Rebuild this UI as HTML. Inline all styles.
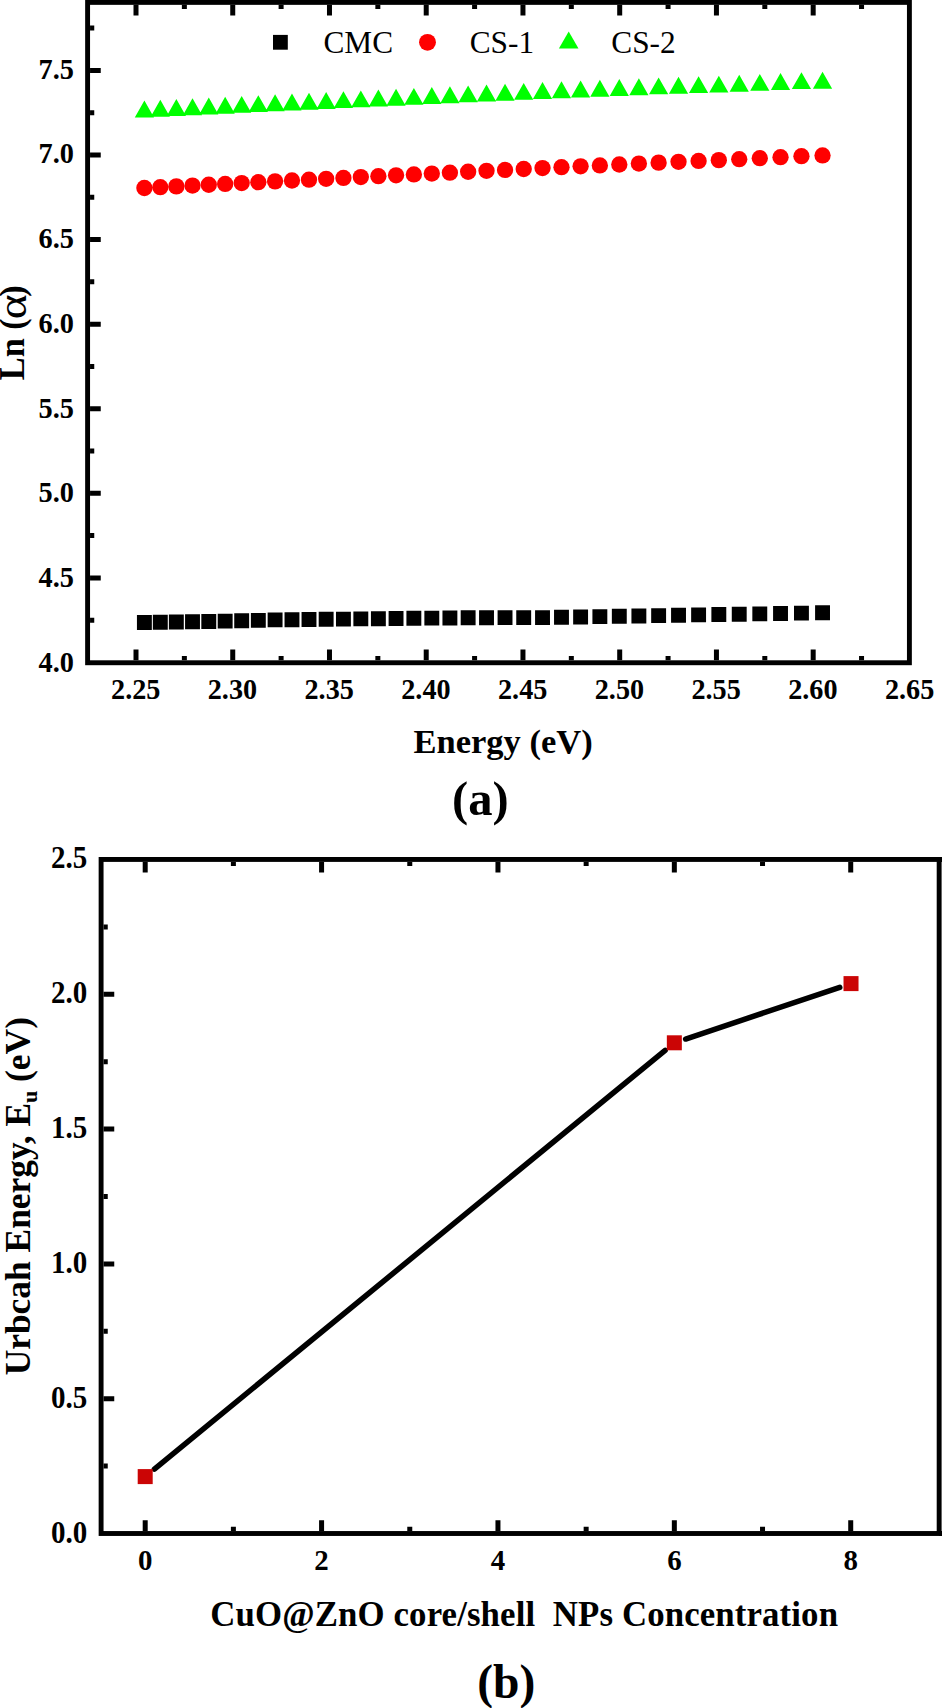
<!DOCTYPE html>
<html><head><meta charset="utf-8"><title>Figure</title>
<style>
html,body{margin:0;padding:0;background:#fff}
body{width:942px;height:1708px;overflow:hidden}
svg{display:block;font-family:"Liberation Serif","DejaVu Serif",serif;fill:#000}
</style></head><body>
<svg width="942" height="1708" viewBox="0 0 942 1708">
<rect width="942" height="1708" fill="#fff"/>
<rect x="87.6" y="2.4" width="821.80" height="660.35" fill="none" stroke="#000" stroke-width="4.9"/>
<path d="M136.00 660.30v-10.7M136.00 4.85v10.7M184.37 660.30v-4.2M184.37 4.85v4.2M232.74 660.30v-10.7M232.74 4.85v10.7M281.11 660.30v-4.2M281.11 4.85v4.2M329.48 660.30v-10.7M329.48 4.85v10.7M377.85 660.30v-4.2M377.85 4.85v4.2M426.22 660.30v-10.7M426.22 4.85v10.7M474.59 660.30v-4.2M474.59 4.85v4.2M522.96 660.30v-10.7M522.96 4.85v10.7M571.33 660.30v-4.2M571.33 4.85v4.2M619.70 660.30v-10.7M619.70 4.85v10.7M668.07 660.30v-4.2M668.07 4.85v4.2M716.44 660.30v-10.7M716.44 4.85v10.7M764.81 660.30v-4.2M764.81 4.85v4.2M813.18 660.30v-10.7M813.18 4.85v10.7M861.55 660.30v-4.2M861.55 4.85v4.2M90.05 577.91h10.7M90.05 493.33h10.7M90.05 408.75h10.7M90.05 324.16h10.7M90.05 239.58h10.7M90.05 154.99h10.7M90.05 70.41h10.7M90.05 620.21h4.2M90.05 535.62h4.2M90.05 451.04h4.2M90.05 366.45h4.2M90.05 281.87h4.2M90.05 197.28h4.2M90.05 112.70h4.2M90.05 28.11h4.2" stroke="#000" stroke-width="5" fill="none"/>
<g font-weight="bold" font-size="28.2" text-anchor="middle">
<text transform="translate(135.70 698.5) scale(1 1.065)">2.25</text>
<text transform="translate(232.44 698.5) scale(1 1.065)">2.30</text>
<text transform="translate(329.18 698.5) scale(1 1.065)">2.35</text>
<text transform="translate(425.92 698.5) scale(1 1.065)">2.40</text>
<text transform="translate(522.66 698.5) scale(1 1.065)">2.45</text>
<text transform="translate(619.40 698.5) scale(1 1.065)">2.50</text>
<text transform="translate(716.14 698.5) scale(1 1.065)">2.55</text>
<text transform="translate(812.88 698.5) scale(1 1.065)">2.60</text>
<text transform="translate(909.62 698.5) scale(1 1.065)">2.65</text>
</g>
<g font-weight="bold" font-size="28.3" text-anchor="end">
<text transform="translate(73.9 671.80) scale(1 1.07)">4.0</text>
<text transform="translate(73.9 587.07) scale(1 1.07)">4.5</text>
<text transform="translate(73.9 502.34) scale(1 1.07)">5.0</text>
<text transform="translate(73.9 417.62) scale(1 1.07)">5.5</text>
<text transform="translate(73.9 332.89) scale(1 1.07)">6.0</text>
<text transform="translate(73.9 248.16) scale(1 1.07)">6.5</text>
<text transform="translate(73.9 163.43) scale(1 1.07)">7.0</text>
<text transform="translate(73.9 78.70) scale(1 1.07)">7.5</text>
</g>
<path d="M136.94 615.05h14.9v14.9h-14.9zM152.86 614.81h14.9v14.9h-14.9zM168.90 614.56h14.9v14.9h-14.9zM185.06 614.32h14.9v14.9h-14.9zM201.33 614.07h14.9v14.9h-14.9zM217.72 613.68h14.9v14.9h-14.9zM234.24 613.28h14.9v14.9h-14.9zM250.88 612.88h14.9v14.9h-14.9zM267.64 612.47h14.9v14.9h-14.9zM284.53 612.27h14.9v14.9h-14.9zM301.55 612.07h14.9v14.9h-14.9zM318.70 611.87h14.9v14.9h-14.9zM335.98 611.67h14.9v14.9h-14.9zM353.38 611.47h14.9v14.9h-14.9zM370.93 611.27h14.9v14.9h-14.9zM388.60 611.07h14.9v14.9h-14.9zM406.42 610.86h14.9v14.9h-14.9zM424.37 610.69h14.9v14.9h-14.9zM442.46 610.53h14.9v14.9h-14.9zM460.69 610.36h14.9v14.9h-14.9zM479.07 610.24h14.9v14.9h-14.9zM497.59 610.21h14.9v14.9h-14.9zM516.26 610.18h14.9v14.9h-14.9zM535.07 610.15h14.9v14.9h-14.9zM554.04 609.86h14.9v14.9h-14.9zM573.15 609.52h14.9v14.9h-14.9zM592.42 609.18h14.9v14.9h-14.9zM611.85 608.83h14.9v14.9h-14.9zM631.43 608.48h14.9v14.9h-14.9zM651.18 608.13h14.9v14.9h-14.9zM671.08 607.78h14.9v14.9h-14.9zM691.15 607.42h14.9v14.9h-14.9zM711.38 607.09h14.9v14.9h-14.9zM731.78 606.74h14.9v14.9h-14.9zM752.34 606.40h14.9v14.9h-14.9zM773.08 606.05h14.9v14.9h-14.9zM794.00 605.71h14.9v14.9h-14.9zM815.09 605.35h14.9v14.9h-14.9z" fill="#000"/>
<g fill="#f00"><circle cx="144.39" cy="188.00" r="8.15"/><circle cx="160.31" cy="187.19" r="8.15"/><circle cx="176.35" cy="186.38" r="8.15"/><circle cx="192.51" cy="185.56" r="8.15"/><circle cx="208.78" cy="184.73" r="8.15"/><circle cx="225.17" cy="183.90" r="8.15"/><circle cx="241.69" cy="183.06" r="8.15"/><circle cx="258.33" cy="182.22" r="8.15"/><circle cx="275.09" cy="181.37" r="8.15"/><circle cx="291.98" cy="180.52" r="8.15"/><circle cx="309.00" cy="179.68" r="8.15"/><circle cx="326.15" cy="178.82" r="8.15"/><circle cx="343.43" cy="177.96" r="8.15"/><circle cx="360.83" cy="177.09" r="8.15"/><circle cx="378.38" cy="176.22" r="8.15"/><circle cx="396.05" cy="175.33" r="8.15"/><circle cx="413.87" cy="174.45" r="8.15"/><circle cx="431.82" cy="173.56" r="8.15"/><circle cx="449.91" cy="172.66" r="8.15"/><circle cx="468.14" cy="171.75" r="8.15"/><circle cx="486.52" cy="170.84" r="8.15"/><circle cx="505.04" cy="169.92" r="8.15"/><circle cx="523.71" cy="169.00" r="8.15"/><circle cx="542.52" cy="168.06" r="8.15"/><circle cx="561.49" cy="167.18" r="8.15"/><circle cx="580.60" cy="166.30" r="8.15"/><circle cx="599.87" cy="165.40" r="8.15"/><circle cx="619.30" cy="164.49" r="8.15"/><circle cx="638.88" cy="163.56" r="8.15"/><circle cx="658.63" cy="162.63" r="8.15"/><circle cx="678.53" cy="161.78" r="8.15"/><circle cx="698.60" cy="160.93" r="8.15"/><circle cx="718.83" cy="160.13" r="8.15"/><circle cx="739.23" cy="159.16" r="8.15"/><circle cx="759.79" cy="158.18" r="8.15"/><circle cx="780.53" cy="157.19" r="8.15"/><circle cx="801.45" cy="156.19" r="8.15"/><circle cx="822.54" cy="155.40" r="8.15"/></g>
<path d="M144.39 100.60l9.6 16.9h-19.2zM160.31 99.84l9.6 16.9h-19.2zM176.35 99.07l9.6 16.9h-19.2zM192.51 98.30l9.6 16.9h-19.2zM208.78 97.52l9.6 16.9h-19.2zM225.17 96.73l9.6 16.9h-19.2zM241.69 95.94l9.6 16.9h-19.2zM258.33 95.14l9.6 16.9h-19.2zM275.09 94.34l9.6 16.9h-19.2zM291.98 93.56l9.6 16.9h-19.2zM309.00 92.77l9.6 16.9h-19.2zM326.15 91.98l9.6 16.9h-19.2zM343.43 91.19l9.6 16.9h-19.2zM360.83 90.38l9.6 16.9h-19.2zM378.38 89.57l9.6 16.9h-19.2zM396.05 88.76l9.6 16.9h-19.2zM413.87 87.94l9.6 16.9h-19.2zM431.82 87.12l9.6 16.9h-19.2zM449.91 86.29l9.6 16.9h-19.2zM468.14 85.46l9.6 16.9h-19.2zM486.52 84.62l9.6 16.9h-19.2zM505.04 83.77l9.6 16.9h-19.2zM523.71 82.92l9.6 16.9h-19.2zM542.52 82.06l9.6 16.9h-19.2zM561.49 81.32l9.6 16.9h-19.2zM580.60 80.57l9.6 16.9h-19.2zM599.87 79.82l9.6 16.9h-19.2zM619.30 79.03l9.6 16.9h-19.2zM638.88 78.23l9.6 16.9h-19.2zM658.63 77.42l9.6 16.9h-19.2zM678.53 76.79l9.6 16.9h-19.2zM698.60 76.17l9.6 16.9h-19.2zM718.83 75.66l9.6 16.9h-19.2zM739.23 74.81l9.6 16.9h-19.2zM759.79 73.94l9.6 16.9h-19.2zM780.53 73.07l9.6 16.9h-19.2zM801.45 72.20l9.6 16.9h-19.2zM822.54 71.75l9.6 16.9h-19.2z" fill="#0f0"/>
<rect x="273" y="34.9" width="14.8" height="14.8" fill="#000"/>
<circle cx="427.5" cy="42.35" r="8.45" fill="#f00"/>
<path d="M568.7 31.5l9.8 16.9h-19.6z" fill="#0f0"/>
<g font-size="31.3"><text x="323.5" y="53.1">CMC</text><text x="469.7" y="53.1">CS-1</text><text x="611.3" y="53.1">CS-2</text></g>
<text x="503.1" y="752.9" font-weight="bold" font-size="34.5" text-anchor="middle">Energy (eV)</text>
<text x="480.3" y="815.3" font-weight="bold" font-size="48.6" text-anchor="middle">(a)</text>
<g transform="translate(24 380.2) rotate(-90) scale(1 1.035)" font-weight="bold" font-size="34.3"><text x="0" y="0">Ln (</text><text transform="translate(60.9 1.45) scale(1.234 1)" font-weight="normal" font-size="38.5">α</text><text x="83.5" y="0">)</text></g>
<rect x="101.1" y="859.45" width="838.05" height="674.05" fill="none" stroke="#000" stroke-width="4.9"/>
<path d="M939.15 859.45h6M939.15 1533.5h6" stroke="#000" stroke-width="4.9"/>
<path d="M145.20 1531.05v-10.7M145.20 861.90v10.7M321.58 1531.05v-10.7M321.58 861.90v10.7M497.96 1531.05v-10.7M497.96 861.90v10.7M674.34 1531.05v-10.7M674.34 861.90v10.7M850.72 1531.05v-10.7M850.72 861.90v10.7M233.39 1531.05v-4.2M233.39 861.90v4.2M409.77 1531.05v-4.2M409.77 861.90v4.2M586.15 1531.05v-4.2M586.15 861.90v4.2M762.53 1531.05v-4.2M762.53 861.90v4.2M103.55 1398.70h10.7M103.55 1263.90h10.7M103.55 1129.10h10.7M103.55 994.30h10.7M103.55 1466.10h4.2M103.55 1331.30h4.2M103.55 1196.50h4.2M103.55 1061.70h4.2M103.55 926.90h4.2" stroke="#000" stroke-width="5" fill="none"/>
<g font-weight="bold" font-size="28.9" text-anchor="middle">
<text transform="translate(145.20 1570.1) scale(1 1.04)">0</text>
<text transform="translate(321.58 1570.1) scale(1 1.04)">2</text>
<text transform="translate(497.96 1570.1) scale(1 1.04)">4</text>
<text transform="translate(674.34 1570.1) scale(1 1.04)">6</text>
<text transform="translate(850.72 1570.1) scale(1 1.04)">8</text>
</g>
<g font-weight="bold" font-size="29" text-anchor="end">
<text transform="translate(87.3 1542.65) scale(1 1.07)">0.0</text>
<text transform="translate(87.3 1407.90) scale(1 1.07)">0.5</text>
<text transform="translate(87.3 1273.10) scale(1 1.07)">1.0</text>
<text transform="translate(87.3 1138.30) scale(1 1.07)">1.5</text>
<text transform="translate(87.3 1003.00) scale(1 1.07)">2.0</text>
<text transform="translate(87.3 867.90) scale(1 1.07)">2.5</text>
</g>
<path d="M154.40 1469.06L665.14 1050.34M685.62 1039.02L839.74 987.38" stroke="#000" stroke-width="5.5" stroke-linecap="round" fill="none"/>
<rect x="137.70" y="1469.10" width="15" height="15" fill="#cb0505"/>
<rect x="666.84" y="1035.30" width="15" height="15" fill="#cb0505"/>
<rect x="843.52" y="976.10" width="15" height="15" fill="#cb0505"/>
<text x="210.3" y="1625.5" font-weight="bold" font-size="34.8" textLength="627.7" lengthAdjust="spacing" xml:space="preserve" style="white-space:pre">CuO@ZnO core/shell  NPs Concentration</text>
<text x="506.2" y="1698.1" font-weight="bold" font-size="47.5" text-anchor="middle">(b)</text>
<text transform="translate(30 1196.2) rotate(-90)" font-weight="bold" font-size="35.4" text-anchor="middle">Urbcah Energy, E<tspan font-size="22" dy="7">u</tspan><tspan dy="-7"> (eV)</tspan></text>
</svg>
</body></html>
